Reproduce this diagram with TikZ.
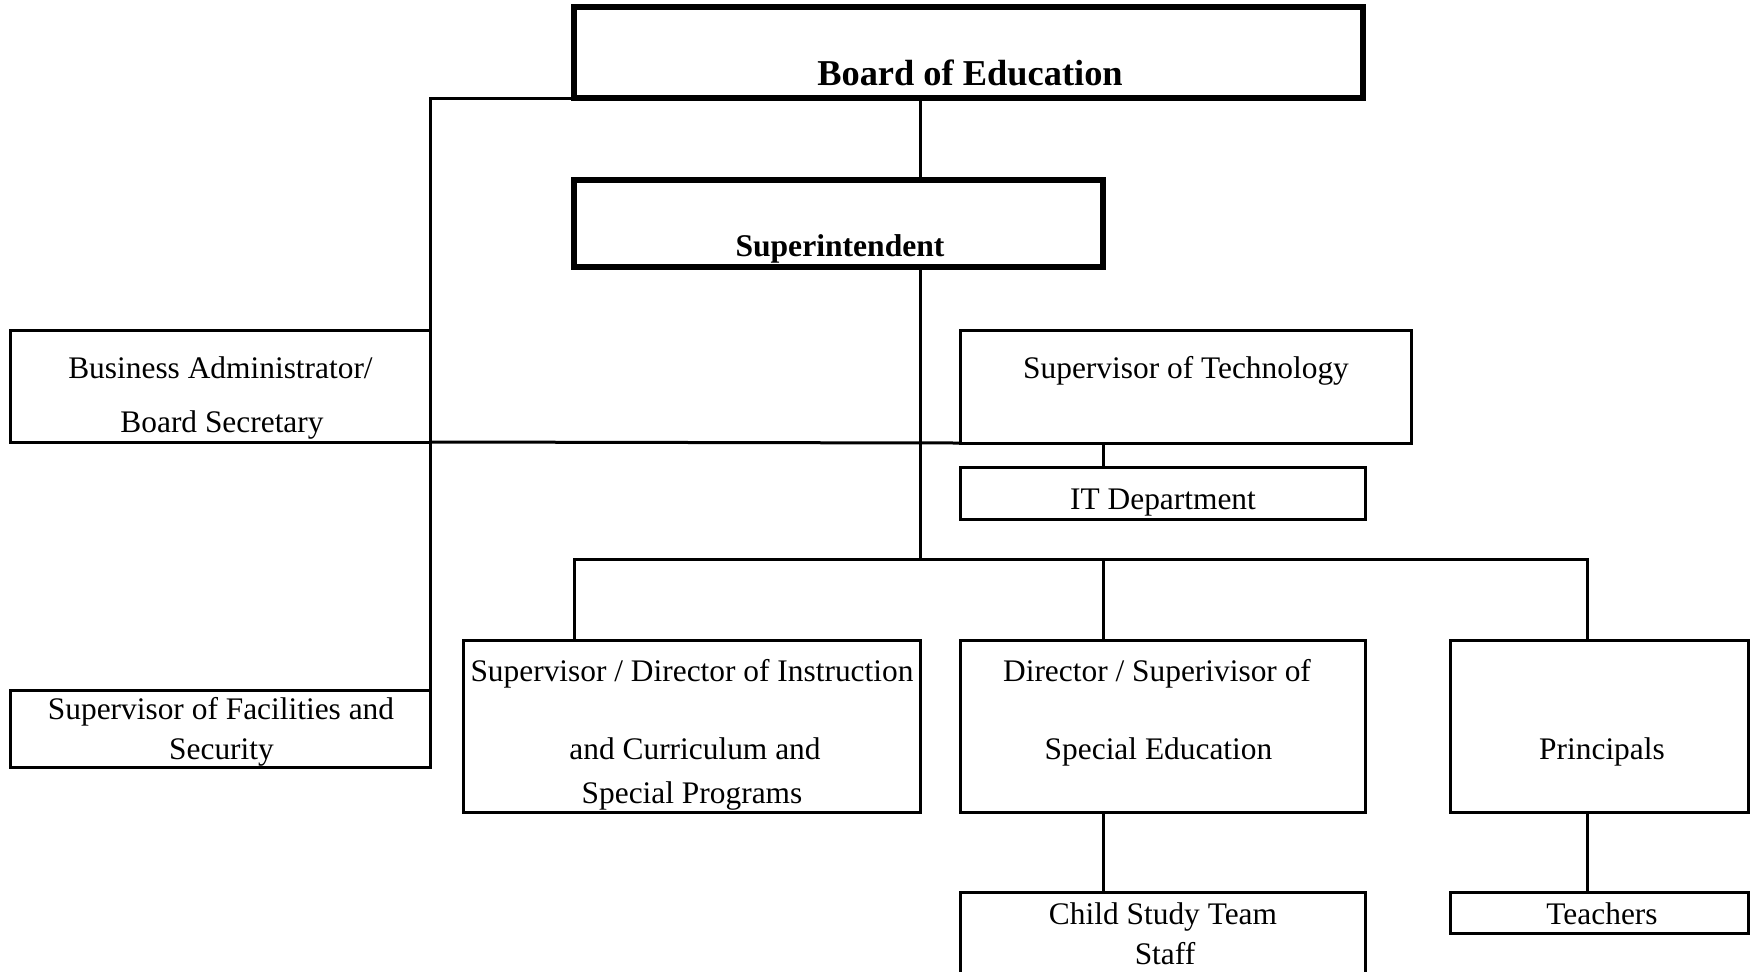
\documentclass[tikz,border=0pt]{standalone}
\usepackage{fontspec}
\setmainfont{Liberation Serif}
\begin{document}
\begin{tikzpicture}[x=0.5pt,y=-0.5pt,
  thinbox/.style={draw,line width=1.5pt,rectangle,inner sep=0pt,outer sep=0pt},
  thickbox/.style={draw,line width=2.6pt,rectangle,inner sep=0pt,outer sep=0pt},
  txt/.style={anchor=base,inner sep=0pt,font=\fontsize{15.7}{18}\selectfont},
  btxt/.style={anchor=base,inner sep=0pt,font=\bfseries},
  conn/.style={line width=1.5pt}]
\useasboundingbox (0,0) rectangle (1751,971);
\clip (0,0) rectangle (1751,971);
% boxes
\node[thickbox,minimum width=394.5pt,minimum height=45.5pt] (board) at (968.5,52.5) {};
\node[thickbox,minimum width=264.5pt,minimum height=43.5pt] (super) at (838.5,223.5) {};
\node[thinbox,minimum width=210pt,minimum height=56pt] (bus) at (220,386) {};
\node[thinbox,minimum width=225.5pt,minimum height=56.5pt] (tech) at (1185.5,386.5) {};
\node[thinbox,minimum width=202.5pt,minimum height=26pt] (it) at (1162.5,493) {};
\node[thinbox,minimum width=210pt,minimum height=38.5pt] (fac) at (220,728.5) {};
\node[thinbox,minimum width=228.5pt,minimum height=86pt] (instr) at (691.5,726) {};
\node[thinbox,minimum width=202.5pt,minimum height=86pt] (sped) at (1162.5,726) {};
\node[thinbox,minimum width=149pt,minimum height=86pt] (prin) at (1599,726) {};
\node[thinbox,minimum width=202.5pt,minimum height=54pt] (child) at (1162.5,946) {};
\node[thinbox,minimum width=149pt,minimum height=20.5pt] (teach) at (1599,912.5) {};
% texts
\node[btxt,font=\bfseries\fontsize{18.2}{20}\selectfont] (tboard) at (970,85) {Board of Education};
\node[btxt,font=\bfseries\fontsize{15.8}{18}\selectfont] (tsuper) at (840,256) {Superintendent};
\node[txt] (tbus1) at (220.5,378) {Business Administrator/};
\node[txt] (tbus2) at (222,432) {Board Secretary};
\node[txt] (ttech) at (1186,378) {Supervisor of Technology};
\node[txt] (tit) at (1163,509) {IT Department};
\node[txt] (tfac1) at (221,719) {Supervisor of Facilities and};
\node[txt] (tfac2) at (221.5,759) {Security};
\node[txt] (tins1) at (692,681) {Supervisor / Director of Instruction};
\node[txt] (tins2) at (695,759) {and Curriculum and};
\node[txt] (tins3) at (692,803) {Special Programs};
\node[txt] (tsp1) at (1157,681) {Director / Superivisor of};
\node[txt] (tsp2) at (1158.5,759) {Special Education};
\node[txt] (tprin) at (1602,759) {Principals};
\node[txt] (tch1) at (1163,924) {Child Study Team};
\node[txt] (tch2) at (1165,964) {Staff};
\node[txt] (tteach) at (1602,924) {Teachers};
% junctions
\coordinate (j) at (920,559);
\coordinate (hl) at (574,559);
\coordinate (hm) at (1103,559);
\coordinate (hr) at (1587,559);
% connectors
\draw[conn] (board.south -| j) -- (super.north -| j);
\draw[conn] (super.south -| j) -- (j);
\draw[conn] (board.south west) -- (bus.east |- board.south west) -- (fac.north east);
\draw[conn] (bus.south east) -- (tech.south west);
\draw[conn] (tech.south -| hm) -- (it.north -| hm);
\draw[conn] (instr.north -| hl) -- (hl) -- (hr) -- (prin.north -| hr);
\draw[conn] (hm) -- (sped.north -| hm);
\draw[conn] (sped.south -| hm) -- (child.north -| hm);
\draw[conn] (prin.south -| hr) -- (teach.north -| hr);
\end{tikzpicture}
\end{document}
